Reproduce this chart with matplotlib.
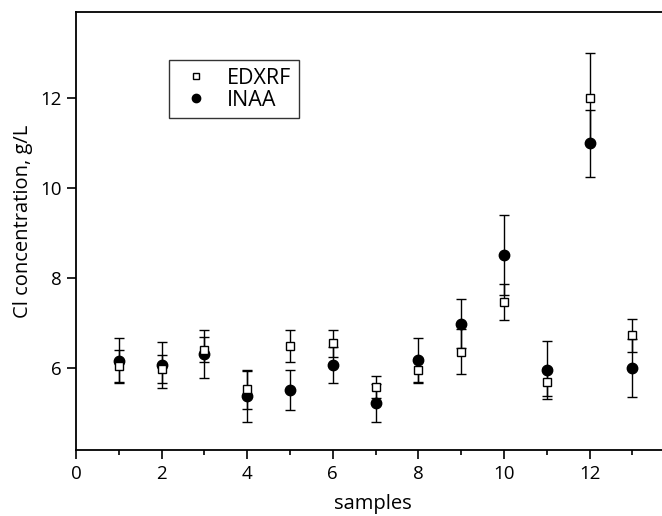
import matplotlib
matplotlib.use("Agg")
import matplotlib.pyplot as plt
from matplotlib.ticker import MultipleLocator

plt.rcParams['font.family'] = ['Open Sans', 'DejaVu Sans']

samples = [1, 2, 3, 4, 5, 6, 7, 8, 9, 10, 11, 12, 13]
edxrf = [6.05, 5.98, 6.41, 5.53, 6.49, 6.55, 5.58, 5.96, 6.37, 7.47, 5.70, 12.0, 6.73]
edxrf_err = [0.36, 0.32, 0.28, 0.43, 0.35, 0.30, 0.24, 0.27, 0.50, 0.41, 0.31, 1.0, 0.37]
inaa = [6.17, 6.07, 6.31, 5.37, 5.52, 6.06, 5.22, 6.18, 6.99, 8.52, 5.96, 11.0, 6.00]
inaa_err = [0.50, 0.51, 0.53, 0.57, 0.45, 0.40, 0.42, 0.50, 0.55, 0.89, 0.64, 0.75, 0.64]

W, H = 662, 516
fig = plt.figure(figsize=(W / 100, H / 100), dpi=100)
ax = fig.add_axes([76 / W, (H - 450) / H, (W - 76) / W, (450 - 12) / H])

ax.errorbar(samples, edxrf, yerr=edxrf_err, fmt='s', mfc='white', mec='black',
            ms=6, mew=1.0, ecolor='black', elinewidth=1.0, capsize=3.6, capthick=1.0,
            label='EDXRF', zorder=3)
ax.errorbar(samples, inaa, yerr=inaa_err, fmt='o', mfc='black', mec='black',
            ms=7.5, ecolor='black', elinewidth=1.0, capsize=3.6, capthick=1.0,
            label='INAA', zorder=2)

ax.set_xlim(0, (W - 76) / 42.8)
ax.set_ylim(4.18, 13.92)
ax.xaxis.set_major_locator(MultipleLocator(2))
ax.xaxis.set_minor_locator(MultipleLocator(1))
ax.set_yticks([6, 8, 10, 12])
ax.tick_params(axis='both', which='major', direction='out', length=6.5, width=1.2,
               labelsize=13.5, pad=4)
ax.tick_params(axis='x', which='minor', direction='out', length=3.5, width=1.2)
ax.tick_params(top=False, right=False)
ax.spines['right'].set_visible(False)
for s in ['left', 'top', 'bottom']:
    ax.spines[s].set_linewidth(1.3)

ax.set_xlabel('samples', fontsize=14.5)
ax.set_ylabel('Cl concentration, g/L', fontsize=14.5)
ax.xaxis.set_label_coords((372.5 - 76) / (W - 76), -(494 - 450) / 438)
ax.yaxis.set_label_coords((33 - 76) / (W - 76), (450 - 221) / 438)

handles, labels = ax.get_legend_handles_labels()
handles = [h[0] for h in handles]
leg = ax.legend(handles, labels, loc='upper left',
                bbox_to_anchor=((169 - 76) / (W - 76), 1 - (60 - 12) / 438),
                fontsize=15.5, frameon=True, fancybox=False, edgecolor='black',
                handletextpad=0.55, borderpad=0.35, labelspacing=0.05,
                handlelength=1.8, borderaxespad=0, markerscale=0.8)
leg.get_frame().set_linewidth(1.0)

fig.savefig('out.png', dpi=100)
